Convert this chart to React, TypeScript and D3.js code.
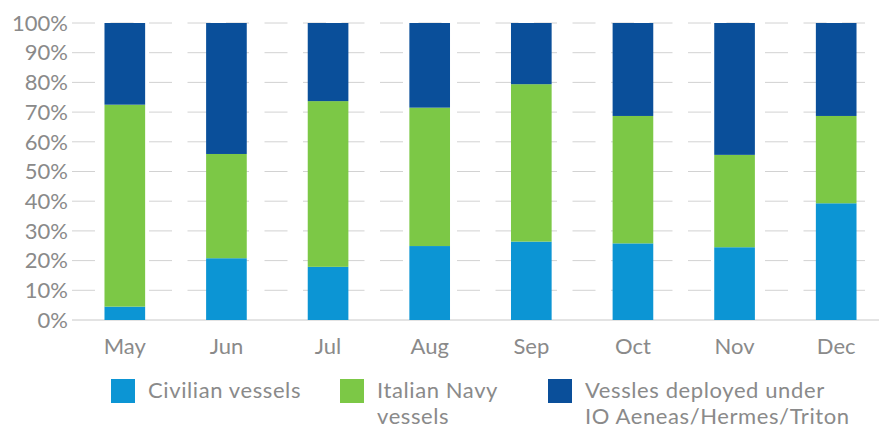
import React, { useRef, useEffect } from 'react';
import * as d3 from 'd3';

const months = ['May', 'Jun', 'Jul', 'Aug', 'Sep', 'Oct', 'Nov', 'Dec'];
const civilian = [4.5, 20.8, 17.9, 24.9, 26.4, 25.8, 24.5, 39.3];
const italianNavy = [68.0, 35.1, 55.8, 46.6, 53.0, 42.9, 31.1, 29.4];
const ioVessels = [27.5, 44.1, 26.3, 28.5, 20.6, 31.3, 44.4, 31.3];
const yTicks = [0, 10, 20, 30, 40, 50, 60, 70, 80, 90, 100];

const seriesKeys = ['civilian', 'navy', 'io'];
const seriesColors = ['#0c95d4', '#7cc846', '#0a4f9a'];
const legendLines = [
  ['Civilian vessels'],
  ['Italian Navy', 'vessels'],
  ['Vessles deployed under', 'IO Aeneas/Hermes/Triton'],
];

const W = 879;
const H = 429;
const textColor = '#8a8a8a';
const font = 'Lato, "Open Sans", sans-serif';

const App = () => {
  const svgRef = useRef<SVGSVGElement>(null);

  useEffect(() => {
    const svg = d3.select(svgRef.current);
    svg.selectAll('*').remove();

    const rows = months.map((m, i) => ({
      month: m,
      civilian: civilian[i],
      navy: italianNavy[i],
      io: ioVessels[i],
    }));

    const x = d3.scaleBand()
      .domain(months)
      .range([74, 887])
      .paddingInner(0.6)
      .paddingOuter(0.3);

    const y = d3.scaleLinear().domain([0, 100]).range([320, 23]);

    // gridlines (dashed, broken between bars)
    svg.append('g')
      .selectAll('line')
      .data(yTicks.filter(t => t > 0))
      .enter().append('line')
      .attr('x1', 72)
      .attr('x2', W)
      .attr('y1', d => y(d))
      .attr('y2', d => y(d))
      .attr('stroke', '#d2d2d2')
      .attr('stroke-width', 1)
      .attr('stroke-dasharray', '23,15.5');

    // baseline
    svg.append('line')
      .attr('x1', 72)
      .attr('x2', W)
      .attr('y1', y(0))
      .attr('y2', y(0))
      .attr('stroke', '#c8c8c8')
      .attr('stroke-width', 1);

    // y tick labels
    svg.append('g')
      .selectAll('text')
      .data(yTicks)
      .enter().append('text')
      .attr('x', 68)
      .attr('y', d => y(d))
      .attr('dy', '0.35em')
      .attr('text-anchor', 'end')
      .style('font-family', font)
      .style('font-size', '22px')
      .attr('fill', textColor)
      .text(d => `${d}%`);

    // stacked bars
    const stacked = d3.stack<any>().keys(seriesKeys)(rows);
    svg.append('g')
      .selectAll('g')
      .data(stacked)
      .enter().append('g')
      .attr('fill', (_d, i) => seriesColors[i])
      .selectAll('rect')
      .data(d => d)
      .enter().append('rect')
      .attr('x', d => x(d.data.month) as number)
      .attr('width', x.bandwidth())
      .attr('y', d => y(d[1]))
      .attr('height', d => y(d[0]) - y(d[1]));

    // x labels
    svg.append('g')
      .selectAll('text')
      .data(months)
      .enter().append('text')
      .attr('x', d => (x(d) as number) + x.bandwidth() / 2)
      .attr('y', 354)
      .attr('text-anchor', 'middle')
      .style('font-family', font)
      .style('font-size', '22px')
      .attr('fill', textColor)
      .text(d => d);

    // legend
    const legendX = [111, 340, 548];
    const legend = svg.append('g');
    legendLines.forEach((lines, i) => {
      legend.append('rect')
        .attr('x', legendX[i])
        .attr('y', 379)
        .attr('width', 24)
        .attr('height', 24)
        .attr('fill', seriesColors[i]);
      lines.forEach((line, j) => {
        legend.append('text')
          .attr('x', legendX[i] + 37)
          .attr('y', 398 + j * 26)
          .style('font-family', font)
          .style('font-size', '22px')
          .style('letter-spacing', '0.6px')
          .attr('fill', textColor)
          .text(line);
      });
    });
  }, []);

  return (
    <svg
      ref={svgRef}
      width={W}
      height={H}
      style={{ position: 'absolute', left: 0, top: 0, background: '#fff' }}
    />
  );
};

export default App;
